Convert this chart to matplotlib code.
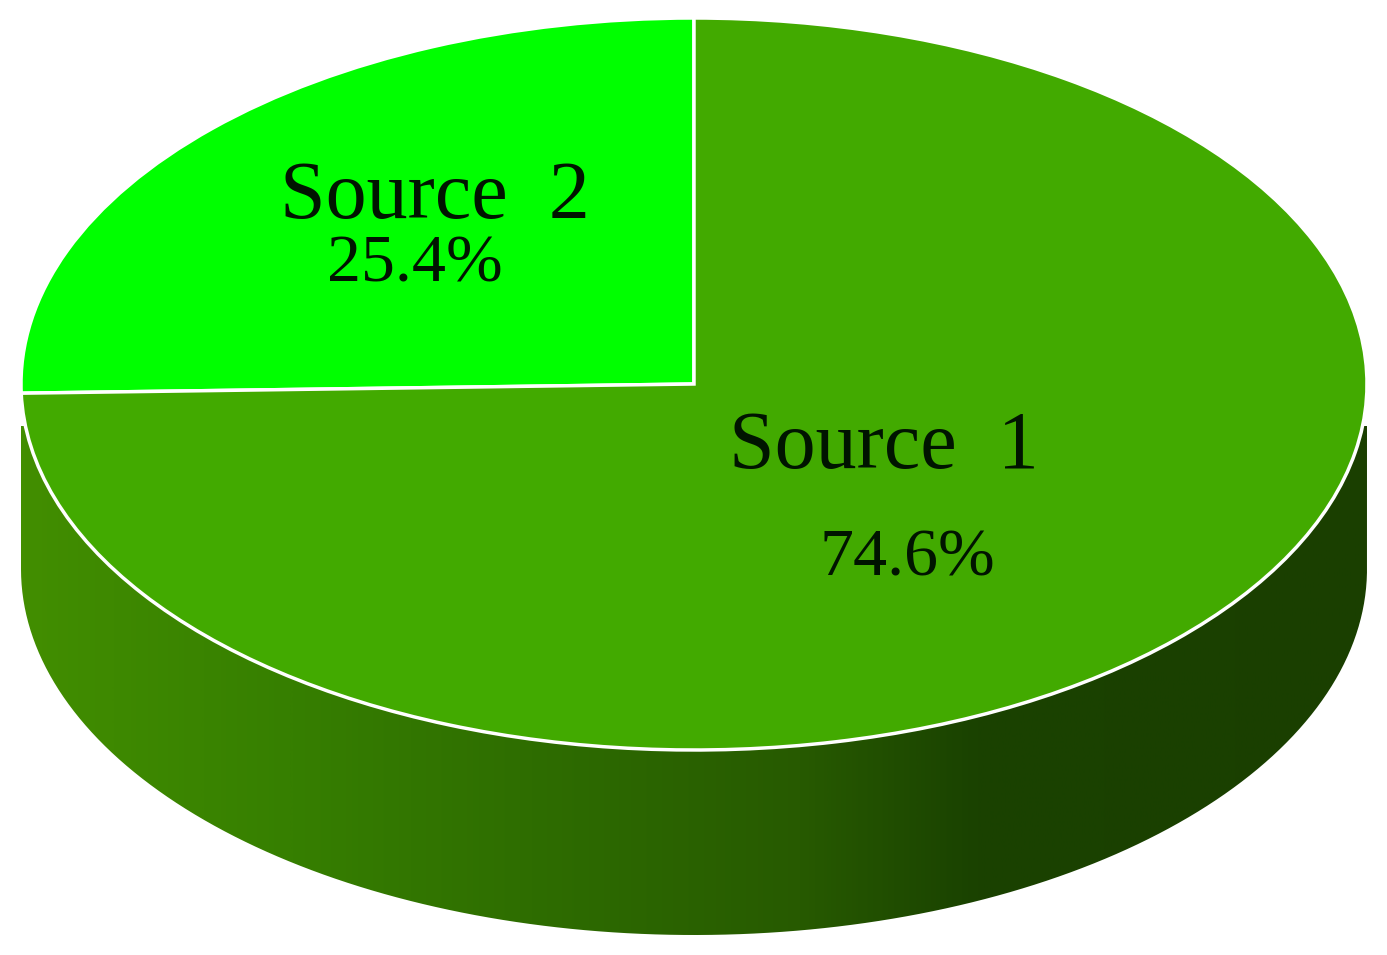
import numpy as np
import matplotlib
matplotlib.use("Agg")
import matplotlib.pyplot as plt
from matplotlib.colors import LinearSegmentedColormap
from matplotlib.patches import PathPatch
from matplotlib.path import Path

labels = ["Source  2", "Source  1"]
values = [25.4, 74.6]
value_labels = ["25.4%", "74.6%"]
colors = ["#00ff00", "#42aa00"]

W, H = 1387, 955
cx, cy = 694, 384
rx, ry = 673, 366
depth = 185 / ry

fig = plt.figure(figsize=(W / 100, H / 100), dpi=100)
ax = fig.add_axes([0, 0, 1, 1])

# side of the disc first, gradient clipped to the band under the lower rim
t = np.linspace(np.pi, 2 * np.pi, 300)
xs = np.cos(t)
ys = np.sin(t)
band = np.concatenate([np.column_stack([xs, ys]),
                       np.column_stack([xs[::-1], ys[::-1] - depth])])
side = PathPatch(Path(np.vstack([band, band[0]])), fc="none", ec="none")
ax.add_patch(side)
cmap = LinearSegmentedColormap.from_list(
    "side", [(0.0, "#428e00"), (0.2, "#367f00"), (0.38, "#2e6d00"),
             (0.58, "#275a00"), (0.71, "#1a4200"), (1.0, "#1a3f00")])
# the side only starts a bit below the widest point of the top face
im = ax.imshow(np.linspace(0, 1, 512).reshape(1, -1), cmap=cmap, aspect="auto",
               extent=(-1, 1, -1 - depth, -42 / ry), zorder=1)
im.set_clip_path(side)

wedges, _ = ax.pie(values, colors=colors, startangle=90, counterclock=True,
                   radius=1, wedgeprops=dict(edgecolor="white", linewidth=2.5, zorder=2))

ax.set_aspect("auto")
ax.set_xlim(-cx / rx, (W - cx) / rx)
ax.set_ylim((cy - H) / ry, cy / ry)
ax.axis("off")

font = dict(family="Liberation Serif", color="#001400", ha="center", va="baseline")
fig.text(435 / W, 1 - 218 / H, labels[0], fontsize=59, **font)
fig.text(415 / W, 1 - 281 / H, value_labels[0], fontsize=49, **font)
fig.text(884 / W, 1 - 468 / H, labels[1], fontsize=59, **font)
fig.text(907 / W, 1 - 575 / H, value_labels[1], fontsize=49, **font)

fig.savefig("out.png", dpi=100)
